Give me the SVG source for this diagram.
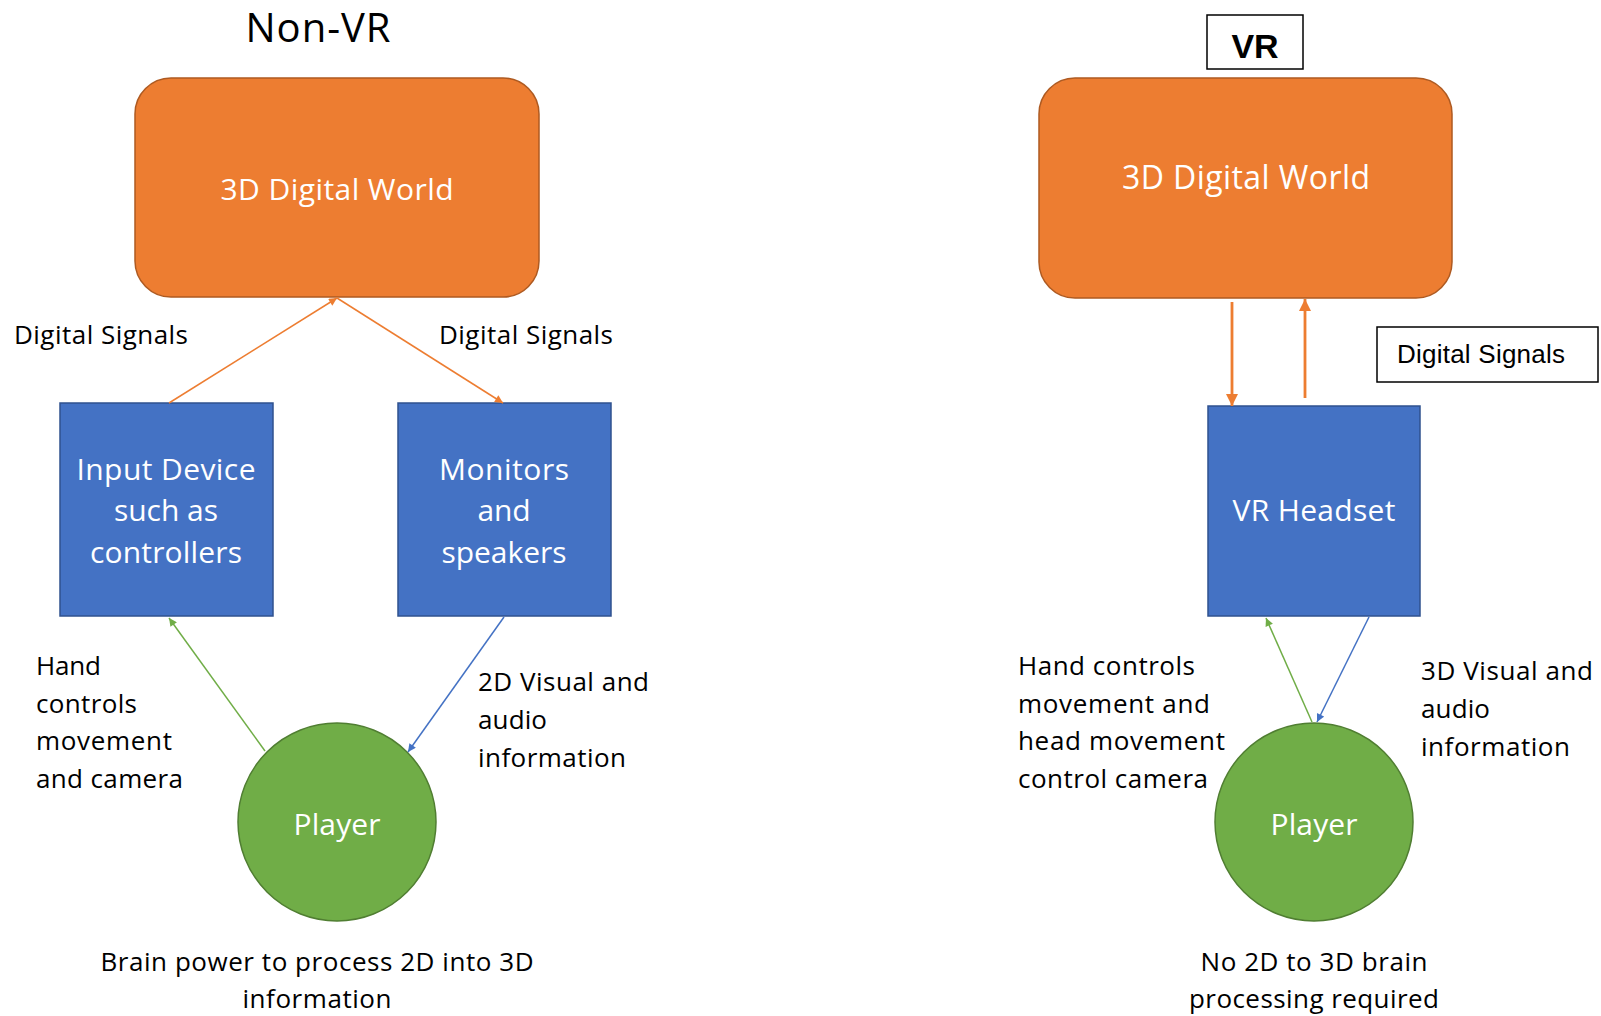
<svg xmlns="http://www.w3.org/2000/svg" width="1601" height="1016" viewBox="0 0 1601 1016">
<defs>
<style>
.bg{fill:#ffffff}
.world{fill:#ED7D31;stroke:#AE5A21;stroke-width:1.5}
.dev{fill:#4472C4;stroke:#2F528F;stroke-width:1.5}
.player{fill:#70AD47;stroke:#507E32;stroke-width:1.5}
.wt{font-family:"Open Sans","Noto Sans",sans-serif;fill:#ffffff;text-anchor:middle}
.lbl{font-family:"Open Sans","Noto Sans",sans-serif;fill:#000000;font-size:26px}
.mid{text-anchor:middle}
.box{fill:#ffffff;stroke:#000000;stroke-width:1.5}
.arial{font-family:"Liberation Sans",Arial,sans-serif;fill:#000000}
.co{stroke:#ED7D31;stroke-width:1.5;fill:none}
.co2{stroke:#ED7D31;stroke-width:2.8;fill:none}
.cg{stroke:#70AD47;stroke-width:1.5;fill:none}
.cb{stroke:#4472C4;stroke-width:1.5;fill:none}
</style>
<marker id="ao" viewBox="0 0 10 10" refX="10" refY="5" markerWidth="10" markerHeight="8" markerUnits="userSpaceOnUse" orient="auto"><path d="M0,0 L10,5 L0,10 z" fill="#ED7D31"/></marker>
<marker id="ao2" viewBox="0 0 10 10" refX="10" refY="5" markerWidth="15" markerHeight="12" markerUnits="userSpaceOnUse" orient="auto"><path d="M0,0 L10,5 L0,10 z" fill="#ED7D31"/></marker>
<marker id="ag" viewBox="0 0 10 10" refX="10" refY="5" markerWidth="10" markerHeight="8" markerUnits="userSpaceOnUse" orient="auto"><path d="M0,0 L10,5 L0,10 z" fill="#70AD47"/></marker>
<marker id="ab" viewBox="0 0 10 10" refX="10" refY="5" markerWidth="10" markerHeight="8" markerUnits="userSpaceOnUse" orient="auto"><path d="M0,0 L10,5 L0,10 z" fill="#4472C4"/></marker>
</defs>
<rect class="bg" x="0" y="0" width="1601" height="1016"/>

<!-- Non-VR side -->
<g id="title-nonvr"><text x="318" y="42" font-family="Open Sans, Noto Sans, sans-serif" font-size="40" text-anchor="middle" textLength="145">Non-VR</text></g>

<g id="world-left">
<rect class="world" x="135" y="78" width="404" height="219" rx="36" ry="36"/>
<text class="wt" x="337" y="200" font-size="30" textLength="233">3D Digital World</text>
</g>

<g id="input-device">
<rect class="dev" x="60" y="403" width="213" height="213"/>
<text class="wt" x="166" y="480" font-size="30" textLength="179">Input Device</text>
<text class="wt" x="166" y="521" font-size="30" textLength="104">such as</text>
<text class="wt" x="166" y="563" font-size="30" textLength="152">controllers</text>
</g>

<g id="monitors">
<rect class="dev" x="398" y="403" width="213" height="213"/>
<text class="wt" x="504" y="480" font-size="30" textLength="130">Monitors</text>
<text class="wt" x="504" y="521" font-size="30" textLength="53">and</text>
<text class="wt" x="504" y="563" font-size="30" textLength="125">speakers</text>
</g>

<g id="player-left">
<circle class="player" cx="337" cy="822" r="99"/>
<text class="wt" x="337" y="835" font-size="30" textLength="87">Player</text>
</g>

<g id="labels-left">
<text class="lbl" x="14" y="344" textLength="174">Digital Signals</text>
<text class="lbl" x="439" y="344" textLength="174">Digital Signals</text>
<text class="lbl" x="36" y="675" textLength="65">Hand</text>
<text class="lbl" x="36" y="713" textLength="101">controls</text>
<text class="lbl" x="36" y="750" textLength="136">movement</text>
<text class="lbl" x="36" y="788" textLength="147">and camera</text>
<text class="lbl" x="478" y="691" textLength="171">2D Visual and</text>
<text class="lbl" x="478" y="729" textLength="69">audio</text>
<text class="lbl" x="478" y="767" textLength="148">information</text>
<text class="lbl mid" x="317" y="971" textLength="433">Brain power to process 2D into 3D</text>
<text class="lbl mid" x="317" y="1008" textLength="149">information</text>
</g>

<!-- VR side -->
<g id="title-vr">
<rect class="box" x="1207" y="15" width="96" height="54"/>
<text class="arial" x="1255" y="58" font-size="34" font-weight="bold" text-anchor="middle">VR</text>
</g>

<g id="world-right">
<rect class="world" x="1039" y="78" width="413" height="220" rx="36" ry="36"/>
<text class="wt" x="1246" y="189" font-size="32" textLength="248">3D Digital World</text>
</g>

<g id="digital-signals-box">
<rect class="box" x="1377" y="327" width="221" height="55"/>
<text class="arial" x="1481" y="363" font-size="26" text-anchor="middle" textLength="168">Digital Signals</text>
</g>

<g id="vr-headset">
<rect class="dev" x="1208" y="406" width="212" height="210"/>
<text class="wt" x="1314" y="521" font-size="30" textLength="163">VR Headset</text>
</g>

<g id="player-right">
<circle class="player" cx="1314" cy="822" r="99"/>
<text class="wt" x="1314" y="835" font-size="30" textLength="87">Player</text>
</g>

<g id="labels-right">
<text class="lbl" x="1018" y="675" textLength="177">Hand controls</text>
<text class="lbl" x="1018" y="713" textLength="192">movement and</text>
<text class="lbl" x="1018" y="750" textLength="207">head movement</text>
<text class="lbl" x="1018" y="788" textLength="190">control camera</text>
<text class="lbl" x="1421" y="680" textLength="172">3D Visual and</text>
<text class="lbl" x="1421" y="718" textLength="69">audio</text>
<text class="lbl" x="1421" y="756" textLength="149">information</text>
<text class="lbl mid" x="1314" y="971" textLength="227">No 2D to 3D brain</text>
<text class="lbl mid" x="1314" y="1008" textLength="250">processing required</text>
</g>

<g id="connectors">
<line class="co" x1="169" y1="403" x2="337" y2="298" marker-end="url(#ao)"/>
<line class="co" x1="337" y1="298" x2="503" y2="403" marker-end="url(#ao)"/>
<line class="cg" x1="265" y1="751" x2="169" y2="618" marker-end="url(#ag)"/>
<line class="cb" x1="504" y1="617" x2="408" y2="752" marker-end="url(#ab)"/>
<line class="co2" x1="1232" y1="302" x2="1232" y2="406" marker-end="url(#ao2)"/>
<line class="co2" x1="1305" y1="398" x2="1305" y2="299" marker-end="url(#ao2)"/>
<line class="cg" x1="1312" y1="722" x2="1266" y2="618" marker-end="url(#ag)"/>
<line class="cb" x1="1369" y1="617" x2="1317" y2="722" marker-end="url(#ab)"/>
</g>
</svg>
